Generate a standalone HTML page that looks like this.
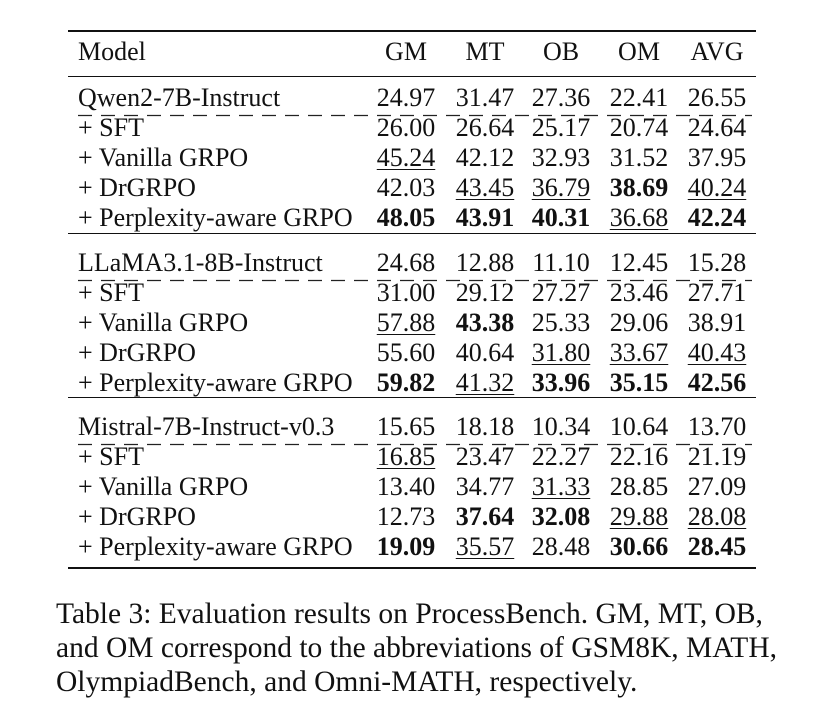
<!DOCTYPE html>
<html><head><meta charset="utf-8"><style>
body{margin:0;width:828px;height:728px;background:#fff;position:relative;overflow:hidden;font-family:"Liberation Serif",serif;color:#111;}
.t{position:absolute;font-size:26px;line-height:28px;white-space:nowrap;}
.c{transform:translateX(-50%);}
.rule{position:absolute;left:68px;width:688px;background:#111;}
.dash{position:absolute;left:78px;width:674px;height:3px;}
.u{text-decoration:underline;text-underline-offset:3px;text-decoration-thickness:1px;}
.b{font-weight:bold;}
.cap{position:absolute;left:56px;font-size:29.5px;line-height:34px;width:780px;white-space:nowrap;}
</style></head><body>
<div id="tbl"></div>
<div class="cap" style="top:597px">Table 3: Evaluation results on ProcessBench. GM, MT, OB,<br>and OM correspond to the abbreviations of GSM8K, MATH,<br>OlympiadBench, and Omni-MATH, respectively.</div>
<script>
const headers=["GM","MT","OB","OM","AVG"];
const models=["Qwen2-7B-Instruct","+ SFT","+ Vanilla GRPO","+ DrGRPO","+ Perplexity-aware GRPO",
"LLaMA3.1-8B-Instruct","+ SFT","+ Vanilla GRPO","+ DrGRPO","+ Perplexity-aware GRPO",
"Mistral-7B-Instruct-v0.3","+ SFT","+ Vanilla GRPO","+ DrGRPO","+ Perplexity-aware GRPO"];
const values=[
["24.97","31.47","27.36","22.41","26.55"],
["26.00","26.64","25.17","20.74","24.64"],
["45.24u","42.12","32.93","31.52","37.95"],
["42.03","43.45u","36.79u","38.69b","40.24u"],
["48.05b","43.91b","40.31b","36.68u","42.24b"],
["24.68","12.88","11.10","12.45","15.28"],
["31.00","29.12","27.27","23.46","27.71"],
["57.88u","43.38b","25.33","29.06","38.91"],
["55.60","40.64","31.80u","33.67u","40.43u"],
["59.82b","41.32u","33.96b","35.15b","42.56b"],
["15.65","18.18","10.34","10.64","13.70"],
["16.85u","23.47","22.27","22.16","21.19"],
["13.40","34.77","31.33u","28.85","27.09"],
["12.73","37.64b","32.08b","29.88u","28.08u"],
["19.09b","35.57u","28.48","30.66b","28.45b"]];
const colX=[406,485,561,639,717];
const root=document.getElementById('tbl');
function add(cls,txt,x,y){const d=document.createElement('div');d.className=cls;d.textContent=txt;d.style.left=x+'px';d.style.top=y+'px';root.appendChild(d);return d;}
function rule(y,h){const r=document.createElement('div');r.className='rule';r.style.top=y+'px';r.style.height=h+'px';


root.appendChild(r);}
rule(30,2);rule(76,1.3);rule(233,1.3);rule(397,1.3);rule(567,2);
let h=add('t','Model',78,38);


headers.forEach((t,i)=>{const e=add('t c',t,colX[i],38);

});
function rowY(i){const g=Math.floor(i/5),k=i%5;return [84,249,413][g]+k*30;}
models.forEach((m,i)=>{const y=rowY(i);
const e=add('t',m,78,y);


values[i].forEach((v,j)=>{let cls='t c',txt=v;
if(v.endsWith('u')){cls+=' u';txt=v.slice(0,-1);} else if(v.endsWith('b')){cls+=' b';txt=v.slice(0,-1);}
const c=add(cls,txt,colX[j],y);

});
if(i%5===0){const d=document.createElementNS('http://www.w3.org/2000/svg','svg');d.setAttribute('class','dash');d.setAttribute('width','674');d.setAttribute('height','3');d.style.top=(y+30)+'px';
d.innerHTML='<line x1="0" y1="1.5" x2="674" y2="1.5" stroke="#222" stroke-width="1.3" stroke-dasharray="14 9"/>';


root.appendChild(d);}
});
</script>
</body></html>
